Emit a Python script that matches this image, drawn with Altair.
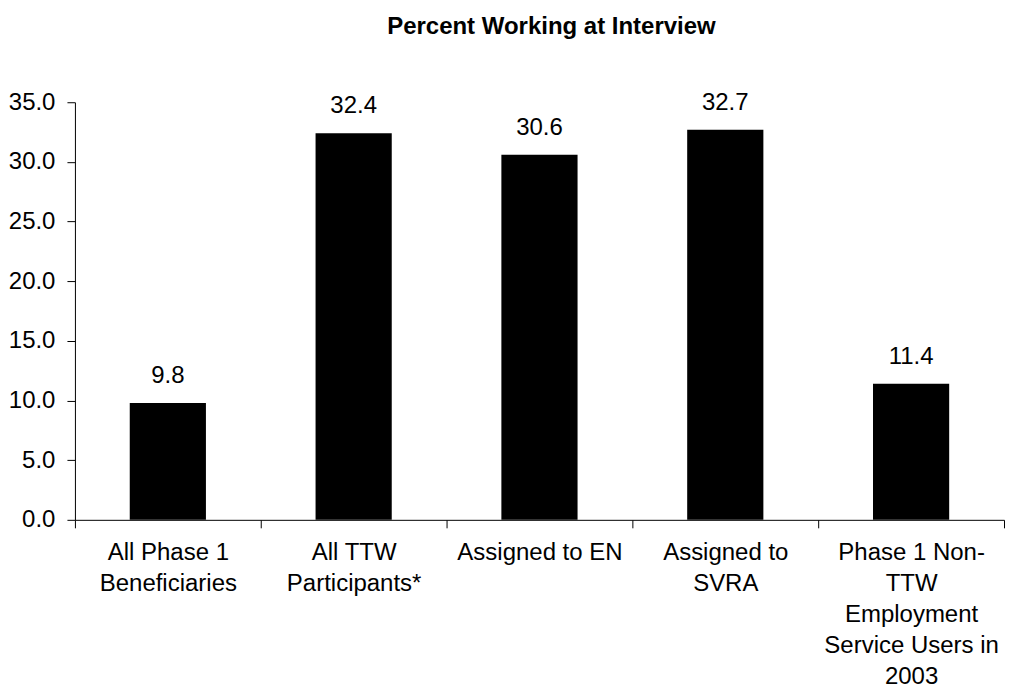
import altair as alt
import pandas as pd

categories = [
    "All Phase 1\nBeneficiaries",
    "All TTW\nParticipants*",
    "Assigned to EN",
    "Assigned to\nSVRA",
    "Phase 1 Non-\nTTW\nEmployment\nService Users in\n2003",
]
values = [9.8, 32.4, 30.6, 32.7, 11.4]
y_ticks = [0, 5, 10, 15, 20, 25, 30, 35]
title_text = "Percent Working at Interview"

df = pd.DataFrame({"group": categories, "pct": values})
FONT = "Liberation Sans"

x = alt.X(
    "group:N",
    sort=categories,
    scale=alt.Scale(paddingInner=0, paddingOuter=0),
    axis=alt.Axis(
        title=None,
        labelAngle=0,
        labelExpr="datum.value ? split(datum.value, '\\n') : ''",
        labelFontSize=24,
        labelFont=FONT,
        labelColor="#000",
        labelLineHeight=31,
        labelPadding=13,
        labelLimit=400,
        labelBaseline="top",
        tickBand="extent",
        tickSize=8,
        tickColor="#000",
        domainColor="#000",
        labelOverlap=False,
    ),
)
y = alt.Y(
    "pct:Q",
    scale=alt.Scale(domain=[0, 35], nice=False),
    axis=alt.Axis(
        title=None,
        values=y_ticks,
        format=".1f",
        grid=False,
        labelFontSize=24,
        labelFont=FONT,
        labelColor="#000",
        labelPadding=12,
        tickSize=8,
        tickColor="#000",
        domainColor="#000",
    ),
)

bars = alt.Chart(df).mark_bar(color="#000", width={"band": 0.41}).encode(x=x, y=y)
labels = alt.Chart(df).mark_text(
    dy=-20, baseline="alphabetic", fontSize=24, font=FONT, color="#000"
).encode(x=x, y=y, text=alt.Text("pct:Q", format=".1f"))

chart = (
    alt.layer(bars, labels)
    .properties(
        width=930,
        height=418,
        title=alt.TitleParams(
            title_text, fontSize=24, font=FONT, fontWeight="bold", color="#000",
            anchor="middle", offset=51, dx=12,
        ),
        padding={"top": 7, "left": 0, "right": 0, "bottom": 0},
    )
    .configure(background="white")
    .configure_view(stroke=None, strokeWidth=0)
)

chart.save("out.html", embed_options={"renderer": "svg", "actions": False})
